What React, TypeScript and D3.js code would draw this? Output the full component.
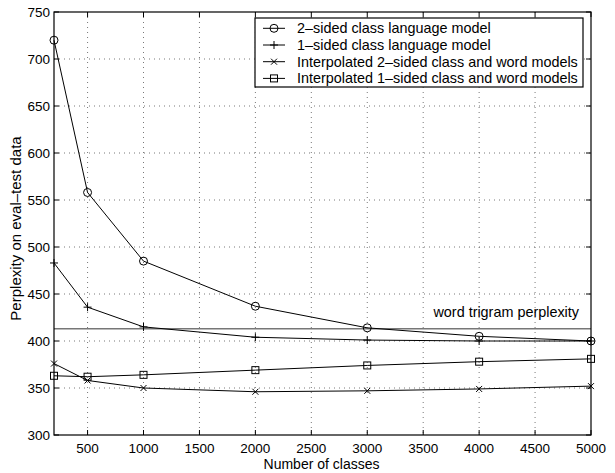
import React from "react";
import * as d3 from "d3";

const classes = [200, 500, 1000, 2000, 3000, 4000, 5000];
const twoSided = [720, 558, 485, 437, 414, 405, 400];
const oneSided = [483, 436, 415, 404, 401, 400, 400];
const interp2 = [376, 358, 350, 346, 347, 349, 352];
const interp1 = [363, 362, 364, 369, 374, 378, 381];
const trigram = 413;
const xTicks = [500, 1000, 1500, 2000, 2500, 3000, 3500, 4000, 4500, 5000];
const yTicks = [300, 350, 400, 450, 500, 550, 600, 650, 700, 750];
const seriesNames = [
  "2\u2013sided class language model",
  "1\u2013sided class language model",
  "Interpolated 2\u2013sided class and word models",
  "Interpolated 1\u2013sided class and word models",
];
const markerTypes = ["circle", "plus", "x", "square"];
const xTitle = "Number of classes";
const yTitle = "Perplexity on eval\u2013test data";
const refLabel = "word trigram perplexity";

const W = 615, H = 473;
const L = 54, R = 591, T = 12, B = 435;

function Marker({ type, x, y }: { type: string; x: number; y: number }) {
  const s = { fill: "none", stroke: "#000", strokeWidth: 1 };
  if (type === "circle") return <circle cx={x} cy={y} r={4} {...s} />;
  if (type === "plus")
    return <path d={`M${x - 4},${y}H${x + 4}M${x},${y - 4}V${y + 4}`} {...s} />;
  if (type === "x")
    return <path d={`M${x - 3},${y - 3}L${x + 3},${y + 3}M${x - 3},${y + 3}L${x + 3},${y - 3}`} {...s} />;
  return <rect x={x - 3.5} y={y - 3.5} width={7} height={7} {...s} />;
}

export default function App() {
  const x = d3.scaleLinear().domain([200, 5000]).range([L, R]);
  const y = d3.scaleLinear().domain([300, 750]).range([B, T]);
  const all = [twoSided, oneSided, interp2, interp1];
  const line = d3
    .line<number>()
    .x((_, i) => x(classes[i]))
    .y((d) => y(d));
  const font = "'Liberation Sans', Arial, Helvetica, sans-serif";
  const legX = 255, legY = 18, legW = 328, legH = 69;
  return (
    <svg width={W} height={H} style={{ position: "absolute", left: 0, top: 0, background: "#fff" }} fontFamily={font}>
      <rect width={W} height={H} fill="#fff" />
      {xTicks.slice(0, -1).map((t) => (
        <line key={"gx" + t} x1={x(t)} x2={x(t)} y1={T} y2={B} stroke="#555" strokeWidth={0.8} strokeDasharray="1,4" />
      ))}
      {yTicks.slice(1, -1).map((t) => (
        <line key={"gy" + t} x1={L} x2={R} y1={y(t)} y2={y(t)} stroke="#555" strokeWidth={0.8} strokeDasharray="1,4" />
      ))}
      {xTicks.map((t) => (
        <g key={"tx" + t}>
          <line x1={x(t)} x2={x(t)} y1={B} y2={B - 5} stroke="#000" />
          <line x1={x(t)} x2={x(t)} y1={T} y2={T + 5} stroke="#000" />
          <text x={x(t)} y={B + 18} textAnchor="middle" fontSize={13.5}>{t}</text>
        </g>
      ))}
      {yTicks.map((t) => (
        <g key={"ty" + t}>
          <line x1={L} x2={L + 5} y1={y(t)} y2={y(t)} stroke="#000" />
          <line x1={R} x2={R - 5} y1={y(t)} y2={y(t)} stroke="#000" />
          <text x={L - 4} y={y(t) + 5} textAnchor="end" fontSize={13.5}>{t}</text>
        </g>
      ))}
      <line x1={L} x2={R} y1={y(trigram)} y2={y(trigram)} stroke="#777" strokeWidth={1.5} />
      <text x={579} y={y(trigram) - 12} textAnchor="end" fontSize={14.4}>{refLabel}</text>
      {all.map((s, k) => (
        <g key={"s" + k}>
          <path d={line(s) || ""} fill="none" stroke="#000" strokeWidth={1} />
          {s.map((v, i) => (
            <Marker key={i} type={markerTypes[k]} x={x(classes[i])} y={y(v)} />
          ))}
        </g>
      ))}
      <rect x={L} y={T} width={R - L} height={B - T} fill="none" stroke="#000" strokeWidth={1.2} />
      <rect x={legX} y={legY} width={legW} height={legH} fill="#fff" stroke="#000" strokeWidth={1.2} />
      {seriesNames.map((n, k) => {
        const ly = legY + 10.3 + k * 16.7;
        return (
          <g key={"l" + k}>
            <line x1={263} x2={285} y1={ly} y2={ly} stroke="#000" />
            <Marker type={markerTypes[k]} x={274} y={ly} />
            <text x={297} y={ly + 5} fontSize={14.4}>{n}</text>
          </g>
        );
      })}
      <text x={(L + R) / 2 - 1} y={469} textAnchor="middle" fontSize={14}>{xTitle}</text>
      <text transform={`translate(21,${(T + B) / 2 + 5}) rotate(-90)`} textAnchor="middle" fontSize={15}>
        {yTitle}
      </text>
    </svg>
  );
}
